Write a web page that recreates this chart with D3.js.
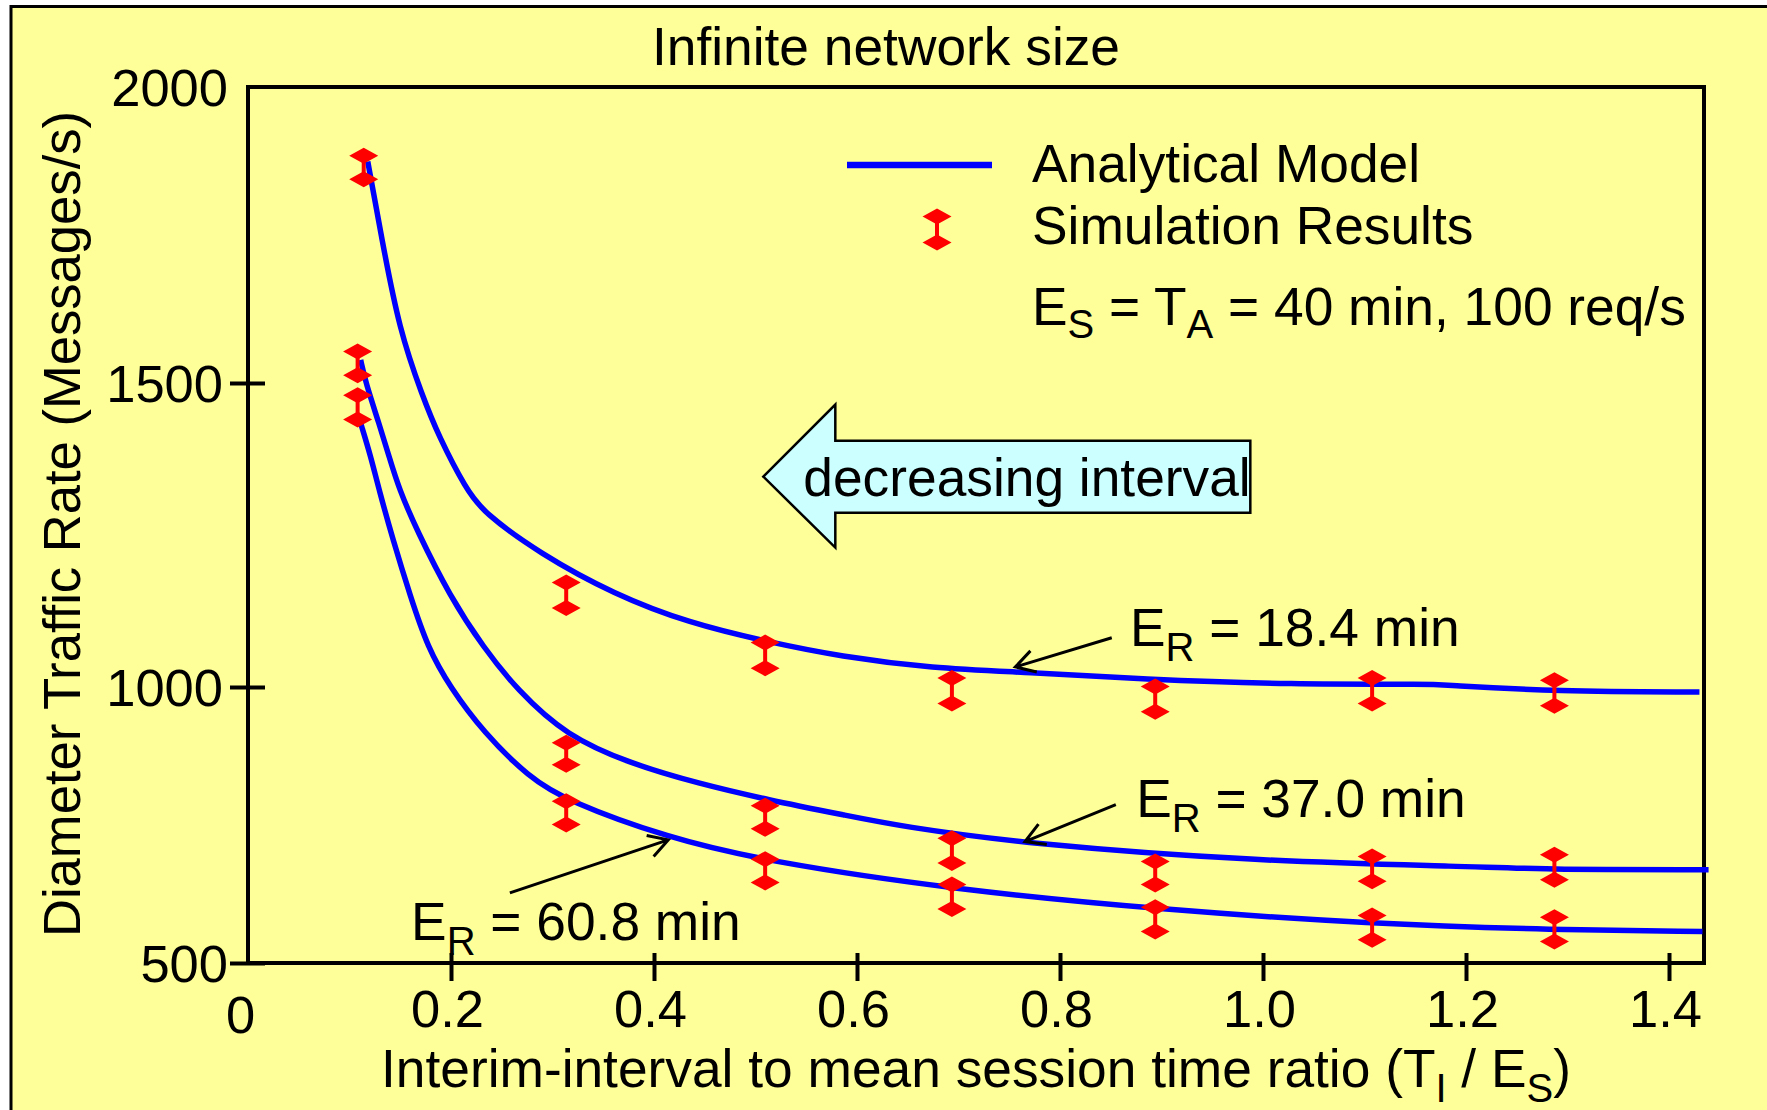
<!DOCTYPE html>
<html>
<head>
<meta charset="utf-8">
<script src="https://cdn.jsdelivr.net/npm/d3@7"></script>
<style>
  body { margin: 0; background: #fff; }
  text { font-family: "Liberation Sans", Arial, sans-serif; fill: #000; }
</style>
</head>
<body>
<div id="chart"></div>
<script>
// ---- data ----
var xTicks = [0, 0.2, 0.4, 0.6, 0.8, 1.0, 1.2, 1.4];
var xTickLabels = ["0", "0.2", "0.4", "0.6", "0.8", "1.0", "1.2", "1.4"];
var yTicks = [500, 1000, 1500, 2000];

// analytical model curves (E_R = 18.4, 37.0, 60.8 min)
var modelX18 = [0.118, 0.132, 0.149, 0.172, 0.188, 0.215, 0.232, 0.287, 0.361, 0.435, 0.510, 0.584, 0.673, 0.769, 0.880, 1.029, 1.170, 1.177, 1.289, 1.430];
var modelY18 = [1874, 1742, 1590, 1478, 1412, 1325, 1287, 1220, 1152, 1105, 1075, 1050, 1031, 1024, 1013, 1004, 1005, 1003, 992, 991];

var modelX37 = [0.111, 0.116, 0.129, 0.139, 0.149, 0.166, 0.199, 0.232, 0.265, 0.314, 0.377, 0.444, 0.511, 0.593, 0.642, 0.765, 0.996, 1.204, 1.285, 1.439];
var modelY37 = [1539, 1500, 1434, 1379, 1325, 1259, 1149, 1065, 995, 911, 861, 825, 796, 766, 748, 716, 684, 675, 669, 669];

var modelX61 = [0.111, 0.121, 0.129, 0.143, 0.160, 0.177, 0.199, 0.232, 0.277, 0.314, 0.413, 0.511, 0.696, 0.897, 1.106, 1.288, 1.433];
var modelY61 = [1434, 1379, 1325, 1241, 1149, 1065, 1000, 918, 836, 794, 727, 684, 633, 597, 571, 560, 557];

// simulation results (upper / lower bound of each error bar)
var simX18 = [0.114, 0.3135, 0.5095, 0.6935, 0.8938, 1.1075, 1.2871];
var simX = [0.108, 0.3135, 0.5095, 0.6935, 0.8938, 1.1075, 1.2871];
var simHi18 = [1884, 1172, 1073, 1015, 1001, 1015, 1011];
var simLo18 = [1844, 1130, 1031, 970, 955, 970, 966];
var simHi37 = [1553, 899, 785, 726, 684, 693, 696];
var simLo37 = [1513, 859, 743, 681, 642, 648, 651];
var simHi61 = [1480, 793, 688, 642, 601, 586, 583];
var simLo61 = [1440, 751, 646, 598, 557, 542, 539];

// ---- layout ----
var svgWidth = 1767;
var svgHeight = 1110;
var plotLeft = 248, plotRight = 1704, plotTop = 87, plotBottom = 963;
var fontMain = 53.3, fontTick = 52.5, fontSub = 40;

var svg = d3.select("#chart")
  .append("svg")
  .attr("width", svgWidth)
  .attr("height", svgHeight);

svg.append("rect").attr("width", svgWidth).attr("height", svgHeight).attr("fill", "#fff");
svg.append("rect")
  .attr("x", 11).attr("y", 6.5)
  .attr("width", svgWidth + 50).attr("height", svgHeight + 50)
  .attr("fill", "#ffff99")
  .attr("stroke", "#000")
  .attr("stroke-width", 3);

var x = d3.scaleLinear().domain([0, 1.4]).range([plotLeft, 1669]);
// the original axis is not evenly spaced, so one segment per tick
var y = d3.scaleLinear().domain(yTicks).range([963, 687, 383, 87]);

// frame
svg.append("path")
  .attr("d", "M" + plotLeft + "," + plotBottom + "V" + plotTop + "H" + plotRight + "V" + plotBottom + "H" + plotLeft)
  .attr("fill", "none")
  .attr("stroke", "#000")
  .attr("stroke-width", 4);

// y axis
var yAxis = svg.append("g")
  .attr("transform", "translate(" + plotLeft + ",0)")
  .call(d3.axisLeft(y).tickValues(yTicks).tickFormat(d3.format("d")));
yAxis.select(".domain").remove();
yAxis.attr("font-size", fontTick).attr("font-family", "Liberation Sans, Arial, sans-serif");
yAxis.selectAll(".tick line")
  .attr("x1", -18).attr("x2", 17)
  .attr("stroke", "#000").attr("stroke-width", 4)
  .filter(function(d) { return d === 2000; }).remove();
yAxis.selectAll(".tick text")
  .attr("x", function(d) { return (d === 1500 || d === 1000) ? -25 : -20; })
  .attr("dy", "0.36em");

// x axis
var xAxis = svg.append("g")
  .attr("transform", "translate(0," + plotBottom + ")")
  .call(d3.axisBottom(x).tickValues(xTicks).tickFormat(function(d, i) { return xTickLabels[i]; }));
xAxis.select(".domain").remove();
xAxis.attr("font-size", fontTick).attr("font-family", "Liberation Sans, Arial, sans-serif");
xAxis.selectAll(".tick line")
  .attr("y1", -10).attr("y2", 18)
  .attr("stroke", "#000").attr("stroke-width", 4)
  .filter(function(d) { return d === 0; }).remove();
xAxis.selectAll(".tick text")
  .attr("dy", null)
  .attr("x", function(d) { return d === 0 ? -8 : -4; })
  .attr("y", function(d) { return d === 0 ? 70 : 64; });

// axis titles
svg.append("text")
  .attr("transform", "translate(80,524)rotate(-90)")
  .attr("text-anchor", "middle")
  .attr("font-size", 52.6)
  .text("Diameter Traffic Rate (Messages/s)");

var xTitle = svg.append("text")
  .attr("x", 381)
  .attr("y", 1087)
  .attr("font-size", fontMain);
xTitle.append("tspan").text("Interim-interval to mean session time ratio (T");
xTitle.append("tspan").attr("dy", 15).attr("font-size", fontSub).text("I");
xTitle.append("tspan").attr("dy", -15).text(" / E");
xTitle.append("tspan").attr("dy", 15).attr("font-size", fontSub).text("S");
xTitle.append("tspan").attr("dy", -15).text(")");

svg.append("text")
  .attr("x", 886).attr("y", 65)
  .attr("text-anchor", "middle")
  .attr("font-size", fontMain)
  .text("Infinite network size");

// ---- analytical model lines ----
var line = d3.line()
  .x(function(d) { return x(d[0]); })
  .y(function(d) { return y(d[1]); })
  .curve(d3.curveBasis);

var models = [
  d3.zip(modelX18, modelY18),
  d3.zip(modelX37, modelY37),
  d3.zip(modelX61, modelY61)
];

svg.append("g").selectAll("path")
  .data(models)
  .enter().append("path")
  .attr("d", line)
  .attr("fill", "none")
  .attr("stroke", "#0000ff")
  .attr("stroke-width", 5.5)
  .attr("stroke-linejoin", "round");

// ---- simulation error bars ----
function diamond(cx, cy) {
  var w = 14.5, h = 8;
  return "M" + (cx - w) + "," + cy + "L" + cx + "," + (cy - h) + "L" + (cx + w) + "," + cy + "L" + cx + "," + (cy + h) + "Z";
}

function drawSim(g, cx, yHi, yLo) {
  g.append("line")
    .attr("x1", cx).attr("x2", cx)
    .attr("y1", yHi).attr("y2", yLo)
    .attr("stroke", "#ff0000").attr("stroke-width", 4);
  g.append("path").attr("d", diamond(cx, yHi)).attr("fill", "#ff0000");
  g.append("path").attr("d", diamond(cx, yLo)).attr("fill", "#ff0000");
}

var sims = [
  { xs: simX18, hi: simHi18, lo: simLo18 },
  { xs: simX, hi: simHi37, lo: simLo37 },
  { xs: simX, hi: simHi61, lo: simLo61 }
];

var simG = svg.append("g");
sims.forEach(function(s) {
  s.xs.forEach(function(v, i) {
    drawSim(simG, x(v), y(s.hi[i]), y(s.lo[i]));
  });
});

// ---- legend ----
svg.append("line")
  .attr("x1", 847).attr("x2", 992)
  .attr("y1", 165).attr("y2", 165)
  .attr("stroke", "#0000ff").attr("stroke-width", 6.5);
drawSim(svg.append("g"), 937, 216.5, 242.5);

svg.append("text").attr("x", 1032).attr("y", 182).attr("font-size", fontMain).text("Analytical Model");
svg.append("text").attr("x", 1032).attr("y", 244).attr("font-size", fontMain).text("Simulation Results");

var param = svg.append("text").attr("x", 1032).attr("y", 325).attr("font-size", fontMain);
param.append("tspan").text("E");
param.append("tspan").attr("dy", 13).attr("font-size", fontSub).text("S");
param.append("tspan").attr("dy", -13).text(" = T");
param.append("tspan").attr("dy", 13).attr("font-size", fontSub).text("A");
param.append("tspan").attr("dy", -13).text(" = 40 min, 100 req/s");

// ---- E_R annotations ----
var notes = [
  { label: "18.4", tail: [0.851, 1081], tip: [0.756, 1033], at: [0.869, 1068] },
  { label: "37.0", tail: [0.855, 787], tip: [0.7655, 720], at: [0.875, 764.5] },
  { label: "60.8", tail: [0.258, 627], tip: [0.414, 723], at: [0.1607, 541] }
];

notes.forEach(function(n) {
  var x1 = x(n.tail[0]), y1 = y(n.tail[1]);
  var x2 = x(n.tip[0]), y2 = y(n.tip[1]);
  var a = Math.atan2(y2 - y1, x2 - x1);
  var len = 22, spread = Math.PI / 6;
  svg.append("path")
    .attr("d", "M" + x1 + "," + y1 + "L" + x2 + "," + y2 +
      "M" + (x2 - len * Math.cos(a - spread)) + "," + (y2 - len * Math.sin(a - spread)) +
      "L" + x2 + "," + y2 +
      "L" + (x2 - len * Math.cos(a + spread)) + "," + (y2 - len * Math.sin(a + spread)))
    .attr("fill", "none")
    .attr("stroke", "#000")
    .attr("stroke-width", 3);

  var t = svg.append("text")
    .attr("x", x(n.at[0]))
    .attr("y", y(n.at[1]))
    .attr("font-size", fontMain);
  t.append("tspan").text("E");
  t.append("tspan").attr("dy", 15).attr("font-size", fontSub).text("R");
  t.append("tspan").attr("dy", -15).text(" = " + n.label + " min");
});

// ---- "decreasing interval" block arrow ----
var tipX = x(0.5077), tipY = y(1346);
var arrowPts = [
  [0, 0], [72, -72], [72, -36], [487, -36], [487, 36], [72, 36], [72, 71]
];
svg.append("polygon")
  .attr("points", arrowPts.map(function(p) { return (tipX + p[0]) + "," + (tipY + p[1]); }).join(" "))
  .attr("fill", "#ccffff")
  .attr("stroke", "#000")
  .attr("stroke-width", 2.5);
svg.append("text")
  .attr("x", tipX + 40)
  .attr("y", tipY + 19)
  .attr("font-size", fontMain)
  .text("decreasing interval");
</script>
</body>
</html>
